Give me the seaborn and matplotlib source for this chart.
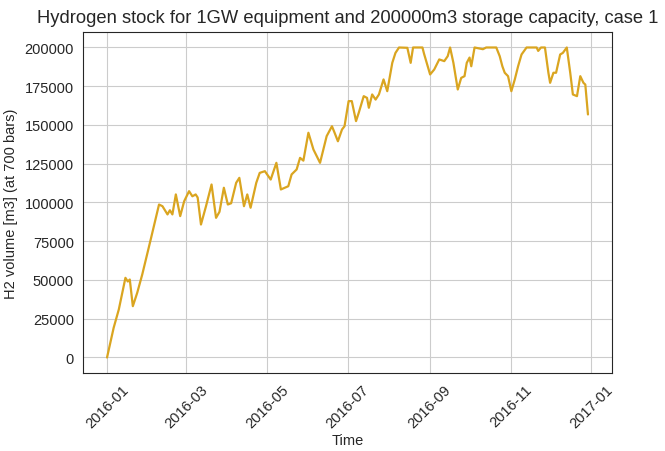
import pandas as pd
import matplotlib
matplotlib.use("Agg")
import matplotlib.pyplot as plt
import matplotlib.dates as mdates
import seaborn as sns

# day offsets from 2016-01-01 and stock values
days = [0, 5, 8.9, 13.9, 15.7, 17.2, 19.5, 22.8, 26.6, 33, 39.3, 41.9, 45.7, 47.5, 49.4,
        52, 55.3, 58.3, 62, 64.5, 67, 68.5, 71, 74.8, 79, 82.4, 85, 88.3, 91.3, 93.8,
        97.6, 100, 103.5, 106, 108.5, 112.8, 115.4, 119.3, 123.7, 128, 131.4, 137,
        139.5, 143.3, 145.9, 148.4, 152.2, 156, 158.5, 161, 166, 170, 172, 174.5,
        177.6, 179.5, 182.6, 185, 188.2, 190.3, 194, 196.5, 197.9, 200.4, 203, 205.5,
        209, 211.8, 215.6, 218, 220.7, 227, 229.5, 231.3, 238.4, 239.6, 244.2, 247.3,
        251.1, 254.9, 257.5, 259.3, 261.8, 265.1, 267.7, 270.2, 271.9, 274, 275.3,
        277.8, 284.1, 286.6, 294.2, 296.8, 298.8, 300.6, 303.1, 305.6, 308.2, 310.7,
        313.3, 317.1, 324.7, 325.9, 328, 331, 333.6, 334.9, 337.4, 339.4, 342.5, 344.5,
        347.5, 350.1, 352.1, 355.2, 357.7, 360.1, 361.5, 363.5]
stock = [0, 19150, 31000, 51400, 49000, 50300, 33100, 41700, 53500, 76100, 98700, 97600,
         92300, 95000, 92300, 105200, 91200, 100800, 107300, 104000, 105200, 103200,
         85800, 97600, 111600, 90100, 94000, 109500, 98700, 99500, 112700, 115900, 97600,
         105200, 96600, 112700, 119100, 120200, 114800, 125600, 108400, 110500, 118100,
         121300, 128800, 127000, 145000, 134200, 129900, 125600, 142800, 149200, 145000,
         139500, 147100, 149200, 165400, 165400, 152500, 158000, 168600, 167500, 161100,
         169700, 166400, 169700, 179400, 171800, 190100, 196500, 200000, 199800, 190100,
         200000, 200000, 196000, 182600, 185800, 192300, 191200, 194400, 200000, 190100,
         172900, 180400, 181500, 190100, 193500, 187900, 200000, 198900, 200000, 200000,
         194400, 187900, 183700, 181500, 171800, 179400, 187900, 195500, 200000, 200000,
         197800, 200000, 200000, 183700, 177200, 183700, 183700, 195500, 196500, 200000,
         183700, 169700, 168600, 181500, 177200, 176100, 156800]

df = pd.DataFrame({"Time": pd.Timestamp("2016-01-01") + pd.to_timedelta(days, unit="D"),
                   "stock": stock})

sns.set_style("white")
plt.rcParams["font.family"] = ["Liberation Sans", "DejaVu Sans"]

fig = plt.figure(figsize=(6.65, 4.52), dpi=100)
ax = fig.add_axes([0.1248, 0.1726, 0.7955, 0.7544])
sns.lineplot(data=df, x="Time", y="stock", color="goldenrod", linewidth=1.6, ax=ax)
ax.grid(True, color=".8")
ax.set_yticks(range(0, 200001, 25000))
ax.xaxis.set_major_locator(mdates.MonthLocator(interval=2))
ax.xaxis.set_major_formatter(mdates.DateFormatter("%Y-%m"))
plt.xticks(rotation=45)
ax.tick_params(labelsize=10.5, pad=3)
ax.set_xlabel("Time", fontsize=10.5, labelpad=2)
ax.set_ylabel("H2 volume [m3] (at 700 bars)", fontsize=10.5, labelpad=5)
ax.set_title("Hydrogen stock for 1GW equipment and 200000m3 storage capacity, case 1",
             fontsize=13.2, pad=7)
fig.savefig("out.png", dpi=100)
